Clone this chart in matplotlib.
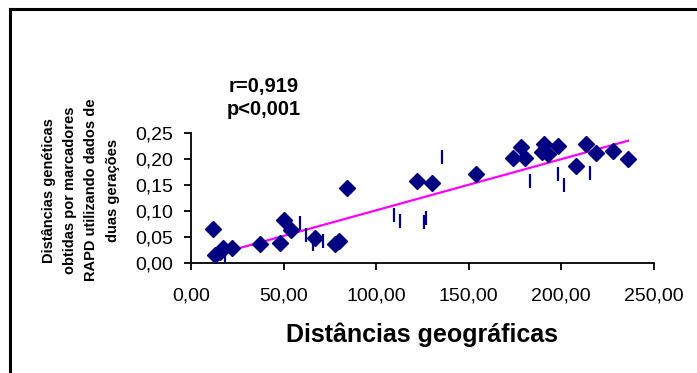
import numpy as np
import matplotlib
matplotlib.use("Agg")
import matplotlib.pyplot as plt
from matplotlib.ticker import FuncFormatter
from matplotlib.lines import Line2D

plt.rcParams["font.family"] = ["Liberation Sans", "DejaVu Sans"]

# series 1 (diamonds): geographic distance vs genetic distance
geo_d = [11.7, 13.0, 15.7, 17.5, 22.0, 37.3, 48.1, 50.2, 53.8, 67.0, 77.8, 80.1, 84.1,
         122.2, 130.3, 154.2, 174.0, 178.5, 180.3, 190.6, 189.4, 193.0, 198.4, 208.2,
         213.6, 219.0, 228.0, 236.1]
gen_d = [0.066, 0.015, 0.020, 0.028, 0.029, 0.037, 0.039, 0.082, 0.064, 0.047, 0.036,
         0.041, 0.145, 0.158, 0.154, 0.172, 0.203, 0.224, 0.203, 0.230, 0.214, 0.209,
         0.225, 0.187, 0.230, 0.212, 0.216, 0.201]

# series 2 (vertical bar markers)
geo_b = [18.4, 58.9, 62.0, 65.7, 71.1, 109.8, 112.9, 126.0, 126.9, 135.7, 183.1, 198.4,
         201.6, 215.4]
gen_b = [0.012, 0.076, 0.053, 0.037, 0.042, 0.092, 0.081, 0.078, 0.086, 0.205, 0.158,
         0.171, 0.150, 0.174]

# trend line as drawn in the original
trend_slope = 0.000988
trend_icpt = 0.00235

xticks = [0, 50, 100, 150, 200, 250]
yticks = [0.00, 0.05, 0.10, 0.15, 0.20, 0.25]

navy = "#000080"

fig = plt.figure(figsize=(6.97, 3.73), dpi=100)
ax = fig.add_axes([0.274, 0.2957, 0.664, 0.347])

ax.plot(geo_d, gen_d, "D", color=navy, markersize=7.8, linestyle="none", zorder=3)
ax.plot(geo_b, gen_b, "|", color=navy, markersize=10.5, markeredgewidth=1.6,
        linestyle="none", zorder=3)

xs = np.array([min(geo_d), max(geo_d)])
ax.plot(xs, trend_slope * xs + trend_icpt, color="#FF00FF", linewidth=1.6, zorder=2)

ax.set_xlim(0, 250)
ax.set_ylim(0, 0.25)
ax.set_xticks(xticks)
ax.set_yticks(yticks)
fmt = FuncFormatter(lambda v, p: f"{v:.2f}".replace(".", ","))
ax.xaxis.set_major_formatter(fmt)
ax.yaxis.set_major_formatter(fmt)
ax.tick_params(labelsize=14, direction="out", length=5, width=1.3)
ax.tick_params(axis="x", pad=13)
ax.tick_params(axis="y", pad=8)
for s in ["top", "right"]:
    ax.spines[s].set_visible(False)
for s in ["left", "bottom"]:
    ax.spines[s].set_linewidth(1.3)
for lab in ax.get_xticklabels() + ax.get_yticklabels():
    lab.set_clip_on(False)

ax.set_xlabel("Distâncias geográficas", fontsize=18, fontweight="bold", labelpad=13)
fig.text(0.116, 0.49, "Distâncias genéticas\nobtidas por marcadores\nRAPD utilizando dados de\nduas gerações",
         rotation=90, ha="center", va="center", fontsize=10.5, fontweight="bold",
         linespacing=1.65, multialignment="center")

fig.text(0.379, 0.737, "r=0,919\np<0,001", ha="center", va="center", fontsize=14.5,
         fontweight="bold", linespacing=1.3)

# chart area border (left and top edges visible)
fig.add_artist(Line2D([10 / 697, 10 / 697], [0, 1 - 9 / 373], transform=fig.transFigure,
                      color="black", linewidth=2.2))
fig.add_artist(Line2D([10 / 697, 1], [1 - 9 / 373, 1 - 9 / 373], transform=fig.transFigure,
                      color="black", linewidth=2.2))

fig.savefig("out.png", dpi=100)
